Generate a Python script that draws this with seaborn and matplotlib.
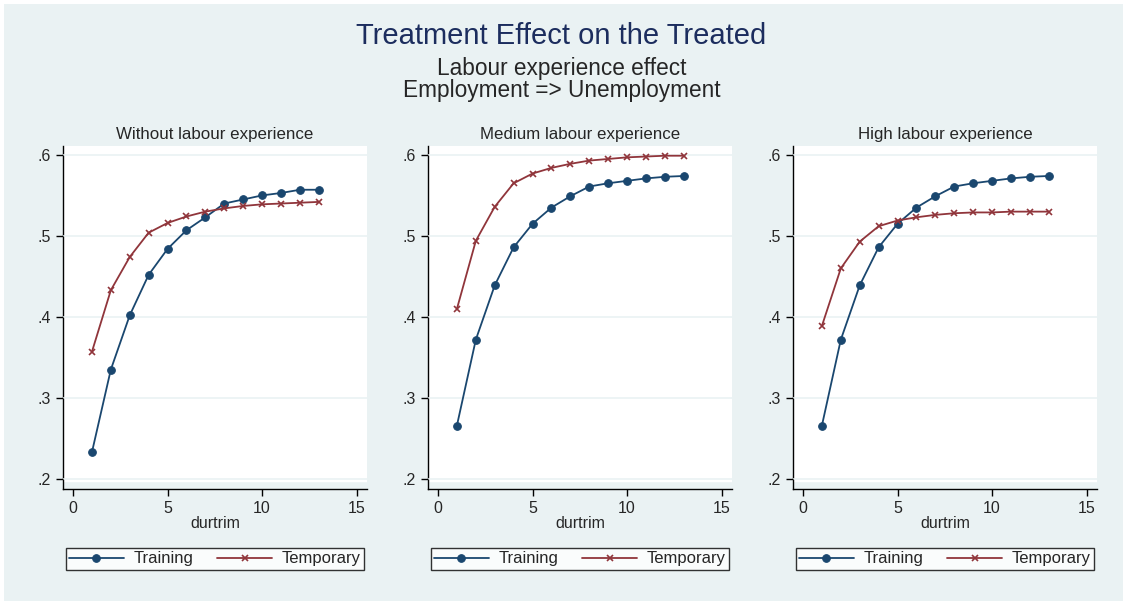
import numpy as np
import pandas as pd
import matplotlib
matplotlib.use('Agg')
import matplotlib.pyplot as plt
import seaborn as sns
from matplotlib.patches import Rectangle

# data
durtrim = list(range(1, 14))
panel_titles = ['Without labour experience', 'Medium labour experience', 'High labour experience']
series_names = ['Training', 'Temporary']

training_without = [0.233, 0.335, 0.402, 0.452, 0.484, 0.507, 0.523, 0.540, 0.545, 0.550, 0.553, 0.557, 0.557]
temporary_without = [0.357, 0.433, 0.474, 0.504, 0.516, 0.524, 0.530, 0.534, 0.537, 0.539, 0.540, 0.541, 0.542]
training_medium = [0.266, 0.372, 0.439, 0.486, 0.515, 0.535, 0.549, 0.561, 0.565, 0.568, 0.571, 0.573, 0.574]
temporary_medium = [0.410, 0.494, 0.536, 0.565, 0.577, 0.584, 0.589, 0.593, 0.595, 0.597, 0.598, 0.599, 0.599]
training_high = [0.266, 0.372, 0.439, 0.486, 0.515, 0.535, 0.549, 0.561, 0.565, 0.568, 0.571, 0.573, 0.574]
temporary_high = [0.389, 0.460, 0.493, 0.512, 0.519, 0.523, 0.526, 0.528, 0.529, 0.529, 0.530, 0.530, 0.530]

yticks = [0.2, 0.3, 0.4, 0.5, 0.6]
ytick_labels = ['.2', '.3', '.4', '.5', '.6']
xticks = [0, 5, 10, 15]

panels = [(training_without, temporary_without),
          (training_medium, temporary_medium),
          (training_high, temporary_high)]

sns.set_style('white')
plt.rcParams['font.family'] = ['Liberation Sans', 'DejaVu Sans']

bg = '#eaf2f3'
blue = '#1a476f'
red = '#90353b'

fig = plt.figure(figsize=(11.23, 6.01), dpi=100)
fig.patch.set_facecolor('white')
fig.patches.append(Rectangle((4 / 1123, 0), 1, 1 - 4 / 601, transform=fig.transFigure,
                             facecolor=bg, edgecolor='none', zorder=-10))

fig.text(0.5, 1 - 36 / 601, 'Treatment Effect on the Treated', ha='center', va='center',
         fontsize=21, color='#1c2d5e')
fig.text(0.5, 1 - 68 / 601, 'Labour experience effect', ha='center', va='center', fontsize=16.3)
fig.text(0.5, 1 - 91 / 601, 'Employment => Unemployment', ha='center', va='center', fontsize=16.3)

lefts = [63, 428, 793]
for i, (tr, tp) in enumerate(panels):
    ax = fig.add_axes([lefts[i] / 1123, 1 - 489 / 601, 304 / 1123, 343 / 601])
    ax.set_facecolor(bg)
    ax.axhspan(0.1975, 0.611, color='white', zorder=0)
    sns.lineplot(x=durtrim, y=tr, color=blue, marker='o', markersize=5.5,
                 markeredgecolor=blue, linewidth=1.3, label=series_names[0], ax=ax)
    sns.lineplot(x=durtrim, y=tp, color=red, marker='x', markersize=5,
                 markeredgewidth=1.2, markeredgecolor=red, linewidth=1.3,
                 label=series_names[1], ax=ax)
    ax.set_xlim(-0.53, 15.55)
    ax.set_ylim(0.2 - 10 / 810, 0.611)
    ax.set_xticks(xticks)
    ax.set_yticks(yticks)
    ax.set_yticklabels(ytick_labels)
    ax.grid(axis='y', color=bg, linewidth=1.2, zorder=0.5)
    ax.grid(axis='x', visible=False)
    ax.set_axisbelow(False)
    for s in ['top', 'right']:
        ax.spines[s].set_visible(False)
    ax.spines['left'].set_color('black')
    ax.spines['bottom'].set_color('black')
    ax.spines['left'].set_linewidth(1)
    ax.spines['bottom'].set_linewidth(1)
    ax.tick_params(axis='both', direction='out', length=5, width=1, color='black',
                   labelsize=11.5, left=True, bottom=True)
    ax.set_xlabel('durtrim', fontsize=11.5, labelpad=0.5)
    ax.set_ylabel('')
    ax.set_title(panel_titles[i], fontsize=12.2, pad=5)
    leg = ax.legend(loc='upper center', bbox_to_anchor=(0.5, -59 / 343), ncol=2,
                    frameon=True, fancybox=False, fontsize=12, handlelength=3.3,
                    borderpad=0.2, handletextpad=0.6, columnspacing=1.4, borderaxespad=0)
    leg.get_frame().set_edgecolor('black')
    leg.get_frame().set_linewidth(1)
    for ln in ax.lines[:2]:
        ln.set_zorder(3)

fig.savefig('out.png', dpi=100, facecolor=fig.get_facecolor())
